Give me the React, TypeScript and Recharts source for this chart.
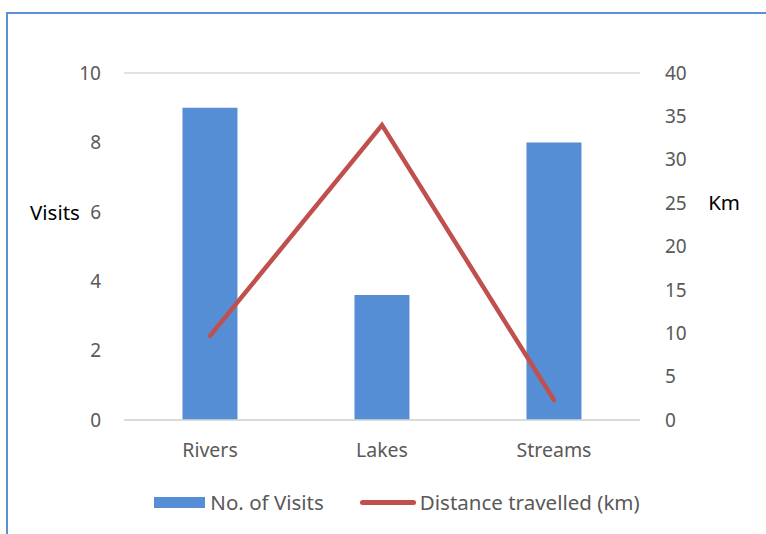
import {
  ComposedChart,
  Bar,
  Line,
  XAxis,
  YAxis,
  CartesianGrid,
  Legend,
} from 'recharts';

const categories = ['Rivers', 'Lakes', 'Streams'];
const visits = [9, 3.6, 8];
const distanceKm = [9.7, 34, 2.3];
const visitTicks = [0, 2, 4, 6, 8, 10];
const kmTicks = [0, 5, 10, 15, 20, 25, 30, 35, 40];

const FONT = '"Noto Sans", sans-serif';
const TEXT = '#595959';
const BLUE = '#558ed5';
const RED = '#c0504d';

const data = categories.map((name, i) => ({
  name,
  visits: visits[i],
  km: distanceKm[i],
}));

function ChartLegend() {
  return (
    <div
      style={{
        display: 'flex',
        justifyContent: 'center',
        alignItems: 'center',
        fontFamily: FONT,
        fontSize: 20.5,
        color: TEXT,
        height: 24,
        paddingLeft: 28,
      }}
    >
      <span style={{ display: 'inline-block', width: 51, height: 11, background: BLUE, marginRight: 5 }} />
      <span style={{ marginRight: 36 }}>No. of Visits</span>
      <span
        style={{ display: 'inline-block', width: 56, height: 5, borderRadius: 3, background: RED, marginRight: 4 }}
      />
      <span>Distance travelled (km)</span>
    </div>
  );
}

export default function App() {
  return (
    <div style={{ position: 'absolute', left: 0, top: 0, width: 766, height: 534, background: '#fff' }}>
      <div
        style={{
          position: 'absolute',
          left: 6,
          top: 12,
          right: 0,
          bottom: 0,
          borderTop: '2px solid #5b8fd6',
          borderLeft: '2px solid #5b8fd6',
        }}
      />
      <ComposedChart
        width={766}
        height={534}
        data={data}
        margin={{ top: 73, right: 0, left: 0, bottom: 20 }}
        barCategoryGap="34%"
        style={{ position: 'absolute', left: 0, top: 0 }}
      >
        <CartesianGrid vertical={false} stroke="#d9d9d9" strokeWidth={1.3} />
        <XAxis
          dataKey="name"
          height={70}
          tickLine={false}
          axisLine={{ stroke: '#d9d9d9', strokeWidth: 1.5 }}
          tickMargin={17}
          tick={{ fill: TEXT, fontSize: 19.5, fontFamily: FONT }}
        />
        <YAxis
          yAxisId="left"
          width={124}
          domain={[0, 10]}
          ticks={visitTicks}
          tickLine={false}
          axisLine={false}
          tickMargin={17}
          tick={{ fill: TEXT, fontSize: 19, fontFamily: FONT }}
          label={{
            value: 'Visits',
            position: 'insideLeft',
            offset: 30,
            dy: -34,
            fill: '#000',
            fontSize: 20.5,
            fontFamily: FONT,
          }}
        />
        <YAxis
          yAxisId="right"
          orientation="right"
          width={126}
          domain={[0, 40]}
          ticks={kmTicks}
          tickLine={false}
          axisLine={false}
          tickMargin={19}
          tick={{ fill: TEXT, fontSize: 19, fontFamily: FONT }}
          label={{
            value: 'Km',
            position: 'insideRight',
            offset: 26,
            dy: -44,
            fill: '#000',
            fontSize: 20.5,
            fontFamily: FONT,
          }}
        />
        <Legend verticalAlign="bottom" content={() => <ChartLegend />} />
        <Bar yAxisId="left" dataKey="visits" name="No. of Visits" fill={BLUE} isAnimationActive={false} />
        <Line
          yAxisId="right"
          dataKey="km"
          name="Distance travelled (km)"
          stroke={RED}
          strokeWidth={4.5}
          dot={false}
          strokeLinecap="round"
          isAnimationActive={false}
        />
      </ComposedChart>
    </div>
  );
}
